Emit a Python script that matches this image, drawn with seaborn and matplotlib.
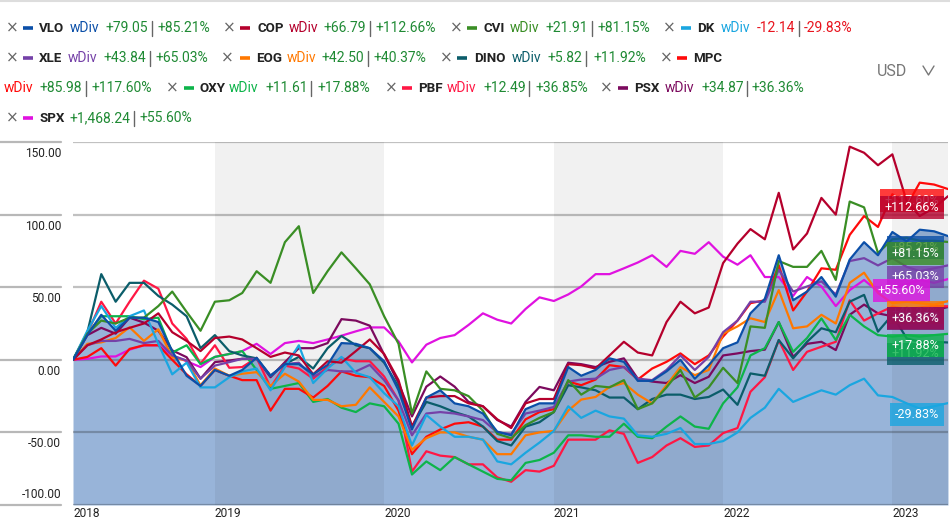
import numpy as np
import pandas as pd
import matplotlib
matplotlib.use("Agg")
import matplotlib.pyplot as plt
import matplotlib.transforms as mtransforms
from matplotlib.lines import Line2D
import seaborn as sns

# ---------------- data ----------------
tickers = ['VLO', 'COP', 'CVI', 'DK', 'XLE', 'EOG', 'DINO', 'MPC', 'OXY', 'PBF', 'PSX', 'SPX']
chg_text = ['+79.05', '+66.79', '+21.91', '-12.14', '+43.84', '+42.50', '+5.82', '+85.98',
            '+11.61', '+12.49', '+34.87', '+1,468.24']
pct_text = ['+85.21%', '+112.66%', '+81.15%', '-29.83%', '+65.03%', '+40.37%', '+11.92%',
            '+117.60%', '+17.88%', '+36.85%', '+36.36%', '+55.60%']
year_labels = ['2018', '2019', '2020', '2021', '2022', '2023']
ytick_vals = [-100, -50, 0, 50, 100, 150]
ytick_labels = ['-100.00', '-50.00', '0.00', '50.00', '100.00', '150.00']
dates = pd.date_range('2018-03-01', periods=63, freq='MS')

VLO = [0, 17, 31, 20, 29, 29, 26, 6, -11, -18, -7, -11, -7, 1.4, -11, -3, -3,
       -10, -3.5, 11.5, 11, 8, -1, -21, -48, -26, -21, -30, -32, -37, -49.5, -52, -34,
       -30, -30, -5, -11, -7, 1, -1.4, -14.5, -14.5, -8, 0, -13, -3.7, 8, 12, 32, 42,
       72, 41, 47, 57, 43.5, 69, 81, 72, 88, 81.5, 89.6, 88.5, 85.21]
COP = [0, 10, 14, 19, 22, 25, 32, 19, 13, 6, 15, 16, 14, 8, 2, 5, 3,
       -10, -1, -2, 6, 14, 4, -14, -46, -26, -25, -25, -30, -32, -41, -47, -30,
       -27, -27, -3, -3.7, -6, 3, 12.4, 5, 3, 26, 40, 32, 36, 66.6, 80, 90, 83,
       115, 76, 87, 111.5, 100, 146.8, 142.6, 134, 141.5, 109, 99, 104.6, 112.66]
CVI = [0, 18, 27, 25, 29, 29, 37, 47, 33, 20, 40, 41, 46, 61, 53, 81, 92,
       46, 61, 74, 63, 52, 30, 11, -37, -8, -20, -21, -25, -35, -51, -54, -45,
       -40, -36, -14, -24, -18, -19, -14, -34, -30, -19, -7, -26, -19, -5.5, -16, 23, 22,
       68, 64, 64, 75, 55, 109, 105, 73.5, 83, 84, 82, 82, 81.15]
DK = [0, 20, 37, 22, 30, 34, 11, -10, -2, -19, -19, -12, -8, -6, -21, -5, 10,
      -16, -6, 2, -9, -12, -23, -32, -59, -38, -46, -53, -53, -55, -70, -72, -64,
      -57, -49, -32, -40, -35, -39, -40.5, -52, -53, -51, -47, -58, -58, -56, -50, -40, -33,
      -20, -29, -25, -21, -24, -17.5, -13, -24.5, -25.6, -30, -33.6, -32, -29.83]
XLE = [0, 10, 13, 13, 14.4, 11.5, 13, 3, -0.5, -13, -4, -1.6, 0.7, 0.7, -11, -3, -2,
       -11.5, -7, -8, -8, -3.5, -14, -28, -52, -37, -36, -37, -39, -41.5, -50, -51, -37,
       -35, -32.5, -15, -13.6, -13, -7, -5, -13, -14, -7, 3, -7, 2, 19, 27, 40, 40,
       62, 47, 50.5, 54, 45, 68, 70, 65, 70, 64, 61, 63, 65.03]
EOG = [0, 11, 12, 15, 22.4, 13, 21, 1.8, -0.5, -17.6, -6, -11, -9.6, -8.5, -18, -9.6, -15,
       -27.6, -27.6, -32, -31, -19, -29, -39, -62, -54, -50, -50, -53, -55, -65, -65, -52,
       -50, -49, -35, -27.4, -25.6, -18.7, -16, -24, -30, -17.5, -5, -10.6, -7, 18, 23, 28.6, 26,
       48, 21.7, 23, 31, 25, 53, 60, 46, 39, 40, 39, 38, 40.37]
DINO = [0, 19, 59, 40, 53, 53, 44, 38, 30, 8, 17, 6, 3, 1, -11, -3, 2,
        -6, 8, 16.4, 10, 8, -2, -18.5, -46, -29, -32, -36, -39, -46, -56, -59, -46,
        -43, -36, -17.5, -19, -21, -26, -26, -34, -27, -24, -24, -27, -25.6, -20.5, -31, -9.4, -11,
        13.6, 1, 12.4, 21.7, 19, 40, 44.7, 19.4, 31, 14.7, 12.4, 12.4, 11.92]
MPC = [0, 2, 8, -4, 7.5, 10, 10, 0, -10, -18, -7, -11, -14, -14, -35, -20, -20,
       -26, -18, -8, -11, -12, -18, -35, -65, -53, -48, -44, -43, -46, -55, -55, -41,
       -36, -34, -15, -17.5, -13.6, -3.7, -5, -13.6, -6, -1.4, 4.4, -3, 3, 16, 27, 39, 41,
       65, 34, 47, 63, 62, 86, 99, 91.5, 114, 106, 122, 120.7, 117.6]
OXY = [0, 18, 30, 30, 30, 28, 29, 5, 10, -3, 2, 4, 6, -7, -20, -18, -16,
       -29, -27, -33, -36, -30, -32, -44, -79, -70, -76, -67, -72, -77, -82, -83, -71,
       -69, -64, -52, -52, -53, -53, -44, -53, -54, -46, -39, -46, -47.5, -30, -19, 3, 8,
       26, 5.5, 15, 28.5, 13.6, 31, 23, 17, 16, 17, 16, 17, 17.88]
PBF = [0, 18, 40, 25, 40, 54.5, 49, 25, 14.4, -2.7, 10, -5.5, -5, 1.4, -19, -4, -6,
       -13, -5, 1, -1, -1, -11.5, -28, -77, -63, -66, -67, -72, -72, -81, -84, -76,
       -77, -73, -55, -55, -55, -48.6, -51, -71, -67, -59, -54, -60, -59, -50.5, -47, -22, -12,
       13.6, -7, 5.5, 9, 12.4, 41, 27, 32, 36.6, 35, 36, 37, 36.85]
PSX = [0, 17, 22, 18, 29, 25.6, 20, 6.5, 1.8, -13, -1.6, -0.5, 0.7, 0.7, -12, -1.6, 8,
       8, 11.5, 28, 27, 23.5, 3.5, -16, -39, -18.5, -11.5, -18.5, -29, -32, -41.5, -46, -29,
       -18.7, -21, -2, -3, -5, -1.4, 1, -13, -15, -16, -10.6, -16, -11.7, 3, 4.4, 6, 7,
       26, 2, 11, 12.4, 6.7, 31, 38, 32, 30, 36, 33, 34, 36.36]
SPX = [0, 0.7, 2.3, 2.3, 7, 10, 10, 3, -1, -5, 2, 4, 6, 11, 4, 11.5, 13,
       11.5, 14, 16.6, 19.6, 22.3, 22.3, 12.7, -1.8, 10.4, 15, 17, 24, 32, 27.6, 25, 35,
       43, 40.5, 45, 50.5, 59, 59, 63, 67, 72, 64, 75, 73, 81, 71, 65.5, 72, 57,
       57, 44, 57, 50.5, 37, 48, 55, 47, 50, 52, 55, 53, 55.6]

series = {'VLO': VLO, 'COP': COP, 'CVI': CVI, 'DK': DK, 'XLE': XLE, 'EOG': EOG,
          'DINO': DINO, 'MPC': MPC, 'OXY': OXY, 'PBF': PBF, 'PSX': PSX, 'SPX': SPX}
for k, v in series.items():
    assert len(v) == len(dates), (k, len(v))

# ---------------- style ----------------
colors = {'VLO': '#0b4fa8', 'COP': '#b5002c', 'CVI': '#3a8e25', 'DK': '#1aa6e0',
          'XLE': '#7541a8', 'EOG': '#ff7800', 'DINO': '#0b5d6a', 'MPC': '#ff0a0a',
          'OXY': '#0db44a', 'PBF': '#ff1744', 'PSX': '#7c0a5e', 'SPX': '#e012e0'}
GREEN = '#1f8a34'
RED = '#e8141e'
FONT = ['Roboto', 'DejaVu Sans']

sns.set_theme(style='white')
plt.rcParams['font.family'] = FONT

W, H = 950, 528
fig = plt.figure(figsize=(W / 100, H / 100), dpi=100)
ax = fig.add_axes([73 / W, 23 / H, 875 / W, 363 / H])


def fx(x):
    return x / W


def fy(y):
    return 1 - y / H


# area fill under VLO
ax.fill_between(dates, VLO, -100, color='#98b4d9', lw=0, zorder=1)
# alternating year bands
for yr in [2019, 2021, 2023]:
    ax.axvspan(pd.Timestamp(f'{yr}-01-01'), pd.Timestamp(f'{yr + 1}-01-01'),
               color='k', alpha=0.06, lw=0, zorder=1.1)

df = pd.DataFrame([(d, k, val) for k, v in series.items() for d, val in zip(dates, v)],
                  columns=['date', 'series', 'value'])
draw_order = ['SPX', 'PSX', 'PBF', 'OXY', 'MPC', 'DINO', 'EOG', 'XLE', 'DK', 'CVI', 'COP', 'VLO']
sns.lineplot(data=df, x='date', y='value', hue='series', hue_order=draw_order,
             palette=colors, linewidth=1.6, legend=False, estimator=None, ax=ax, zorder=2)

ax.set_xlim(dates[0], dates[-1])
ax.set_ylim(-100, 150)
ax.set_xlabel('')
ax.set_ylabel('')
for s in ax.spines.values():
    s.set_visible(False)

ax.set_yticks(ytick_vals)
ax.yaxis.grid(True, color='k', alpha=0.27, lw=1.6)
ax.xaxis.grid(False)
ax.set_axisbelow('line')
ax.tick_params(axis='y', length=0, labelleft=False)

xt = [dates[0]] + [pd.Timestamp(f'{y}-01-01') for y in range(2019, 2024)]
ax.set_xticks(xt)
ax.set_xticklabels(year_labels, ha='left', fontsize=8.6, color='#222222')
ax.tick_params(axis='x', length=0, pad=1.5)

# y labels in left margin + margin gridlines
blend = mtransforms.blended_transform_factory(fig.transFigure, ax.transData)
for v, lab in zip(ytick_vals, ytick_labels):
    fig.add_artist(Line2D([0, 61 / W], [v, v], transform=blend, color='#b8b8b8', lw=1.6))
    if v == -100:
        tr = mtransforms.offset_copy(blend, fig=fig, x=0, y=4, units='dots')
        va = 'bottom'
    else:
        tr = mtransforms.offset_copy(blend, fig=fig, x=0, y=-5, units='dots')
        va = 'top'
    fig.text(61 / W, v, lab, transform=tr, ha='right', va=va, fontsize=8.6, color='#222222')

# end-value boxes
lab_blend = mtransforms.blended_transform_factory(ax.transAxes, ax.transData)
lab_tr = mtransforms.offset_copy(lab_blend, fig=fig, x=0, y=-5, units='dots')
box_order = ['MPC', 'COP', 'VLO', 'CVI', 'XLE', 'SPX', 'EOG', 'PBF', 'PSX', 'DINO', 'OXY', 'DK']
for t in box_order:
    i = tickers.index(t)
    xr = (925 - 73) / 875 if t == 'SPX' else (939 - 73) / 875
    ax.text(xr, series[t][-1], pct_text[i], transform=lab_tr, ha='right', va='top',
            fontsize=9, color='white', zorder=5, clip_on=False,
            bbox=dict(boxstyle='square,pad=0.38', fc=colors[t], ec='none', alpha=0.8))

# top border
fig.add_artist(Line2D([0, 1], [fy(1), fy(1)], transform=fig.transFigure, color='#dddddd', lw=1.5))

# header legend (pixel layout)
layout = {
    'VLO': (28, (12, 23, 39), 28, (70, 105, 152, 157)),
    'COP': (28, (229, 240, 257), 28, (289, 324, 370, 376)),
    'CVI': (28, (456, 467, 483), 28, (510, 545, 592, 598)),
    'DK': (28, (669, 681, 697), 28, (721, 757, 799, 804)),
    'XLE': (58, (12, 23, 39), 58, (68, 104, 150, 156)),
    'EOG': (58, (227, 240, 256), 58, (287, 322, 368, 374)),
    'DINO': (58, (446, 457, 474), 58, (512, 548, 586, 593)),
    'MPC': (58, (666, 677, 693), 88, (4, 40, 86, 92)),
    'OXY': (88, (172, 184, 199), 88, (229, 266, 311, 318)),
    'PBF': (88, (391, 402, 418), 88, (447, 483, 529, 535)),
    'PSX': (88, (606, 618, 634), 88, (665, 701, 747, 752)),
    'SPX': (118, (12, 23, 39), 118, (None, 70, 134, 140)),
}
LFS = 10
for i, t in enumerate(tickers):
    y1, (xm, xd, xt_), y2, (xw, xc, xb, xp) = layout[t]
    c = colors[t]
    fig.text(fx(xm), fy(y1), '\u00d7', ha='center', va='center', fontsize=11,
             color='#666666', family=['DejaVu Sans'])
    fig.add_artist(Line2D([fx(xd), fx(xd + 10)], [fy(y1), fy(y1)], transform=fig.transFigure,
                          color=c, lw=2.6, solid_capstyle='butt'))
    fig.text(fx(xt_), fy(y1), t, ha='left', va='center', fontsize=9.6,
             fontweight='bold', color='#222222')
    vcol = RED if chg_text[i].startswith('-') else GREEN
    if xw is not None:
        fig.text(fx(xw), fy(y2), 'wDiv', ha='left', va='center', fontsize=LFS, color=c)
    fig.text(fx(xc), fy(y2), chg_text[i], ha='left', va='center', fontsize=LFS, color=vcol)
    fig.add_artist(Line2D([fx(xb), fx(xb)], [fy(y2 - 7.5), fy(y2 + 7.5)],
                          transform=fig.transFigure, color='#666666', lw=1))
    fig.text(fx(xp), fy(y2), pct_text[i], ha='left', va='center', fontsize=LFS, color=vcol)

# currency selector
fig.text(fx(877), fy(71), 'USD', ha='left', va='center', fontsize=11.5, color='#777777')
fig.add_artist(Line2D([fx(923), fx(928.5), fx(934)], [fy(66), fy(75), fy(66)],
                      transform=fig.transFigure, color='#777777', lw=1))

fig.savefig('out.png', dpi=100, facecolor='white')
